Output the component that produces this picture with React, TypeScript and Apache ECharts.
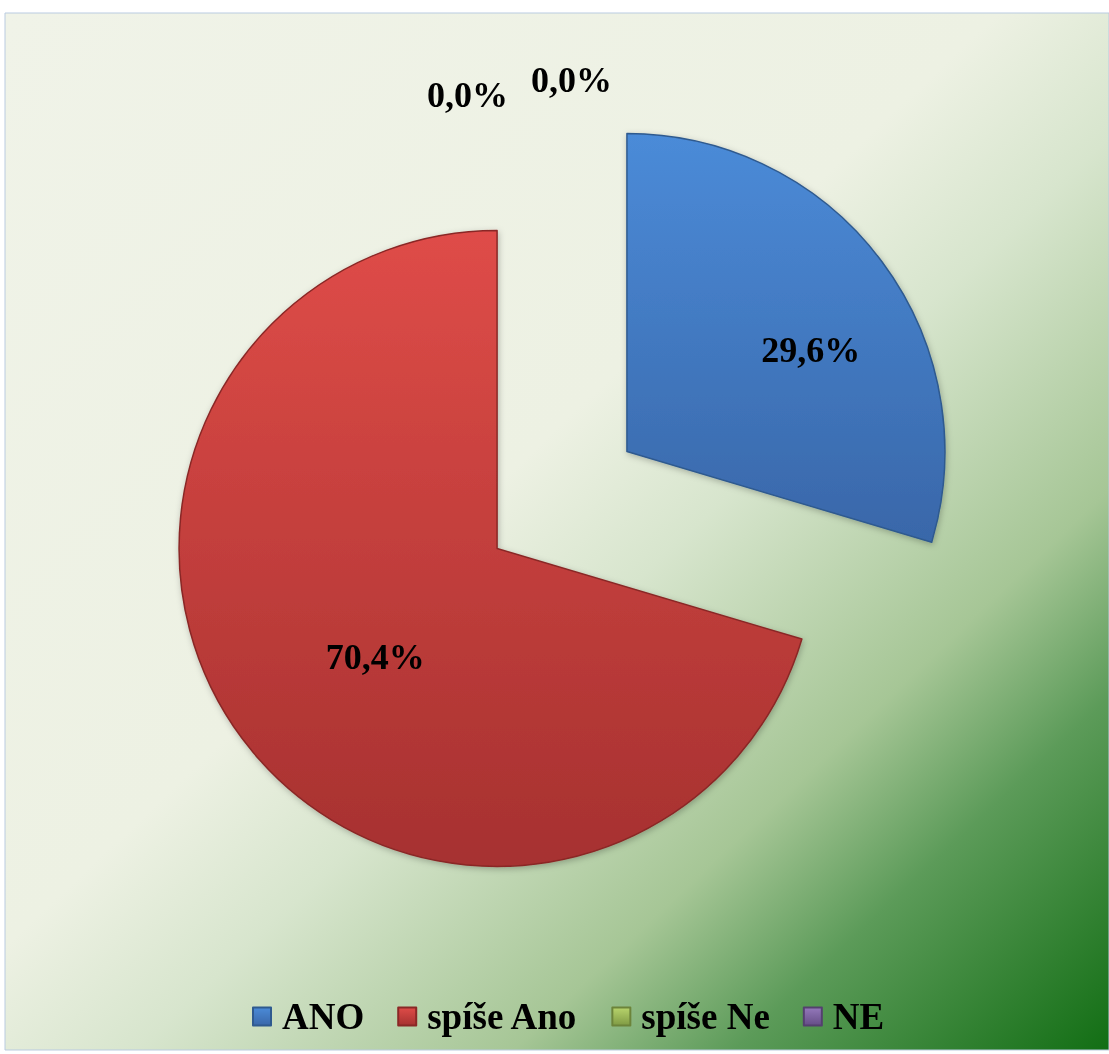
import React, { useEffect, useRef } from 'react';
import * as echarts from 'echarts';

const categories = ['ANO', 'spíše Ano', 'spíše Ne', 'NE'];
const values = [29.6, 70.4, 0, 0];
const colorsTop = ['#4b8bd8', '#df4c48', '#b8d46c', '#9479bb'];
const colorsBottom = ['#3967a9', '#a63130', '#7f9a44', '#654d86'];
const borderColors = ['#2f5a8f', '#8a2826', '#6c843a', '#54406f'];
const labelShifts = [[54, -5], [8, 12], [-155, 9], [-51, -6]];

const FONT = "'Times New Roman', 'Liberation Serif', serif";

export default function App() {
  const ref = useRef<HTMLDivElement>(null);
  useEffect(() => {
    const chart = echarts.init(ref.current as HTMLDivElement, null, { renderer: 'svg' });
    const grad = (i: number) =>
      new echarts.graphic.LinearGradient(0, 0, 0, 1, [
        { offset: 0, color: colorsTop[i] },
        { offset: 1, color: colorsBottom[i] },
      ]);
    const fmt = (v: number) => v.toFixed(1).replace('.', ',') + '%';
    const data = categories.map((name, i) => {
      const style = {
        color: grad(i),
        borderColor: borderColors[i],
        borderWidth: 1.5,
        shadowBlur: 6,
        shadowColor: 'rgba(0,0,0,0.25)',
        shadowOffsetX: 1,
        shadowOffsetY: 2,
      };
      return {
        name,
        value: values[i],
        selected: true,
        itemStyle: style,
        select: { itemStyle: style },
        label: values[i] === 0 ? { position: 'outside' } : { position: 'inside' },
        labelLine: { show: false, length: 15, length2: 15 },
      };
    });
    chart.setOption({
      animation: false,
      graphic: [
        {
          type: 'rect',
          silent: true,
          z: -10,
          shape: { x: 5, y: 13, width: 1104, height: 1037 },
          style: {
            fill: new echarts.graphic.LinearGradient(0, 0, 1, 1, [
              { offset: 0, color: '#f0f3e8' },
              { offset: 0.45, color: '#edf1e3' },
              { offset: 0.56, color: '#d7e5cd' },
              { offset: 0.73, color: '#a6c696' },
              { offset: 0.83, color: '#5c9b59' },
              { offset: 1, color: '#126e14' },
            ]),
            stroke: '#b9cbe0',
            lineWidth: 1,
          },
        },
      ],
      legend: {
        data: categories,
        left: 247,
        bottom: 14,
        itemWidth: 18,
        itemHeight: 18,
        itemGap: 33,
        icon: 'rect',
        selectedMode: false,
        textStyle: {
          fontFamily: FONT,
          fontWeight: 'bold',
          fontSize: 37,
          color: '#000',
          padding: [0, 0, 0, 6],
        },
      },
      series: [
        {
          type: 'pie',
          center: [562, 500],
          radius: [0, 318],
          startAngle: 90,
          clockwise: true,
          selectedMode: 'multiple',
          selectedOffset: 81,
          avoidLabelOverlap: false,
          emphasis: { disabled: true },
          label: {
            show: true,
            fontFamily: FONT,
            fontWeight: 'bold',
            fontSize: 36,
            color: '#000',
            formatter: (p: any) => fmt(p.value),
          },
          labelLayout: (p: any) => ({ dx: labelShifts[p.dataIndex][0], dy: labelShifts[p.dataIndex][1] }),
          data,
        },
      ],
    });
    return () => chart.dispose();
  }, []);
  return <div ref={ref} style={{ position: 'fixed', left: 0, top: 0, width: 1109, height: 1054 }} />;
}
